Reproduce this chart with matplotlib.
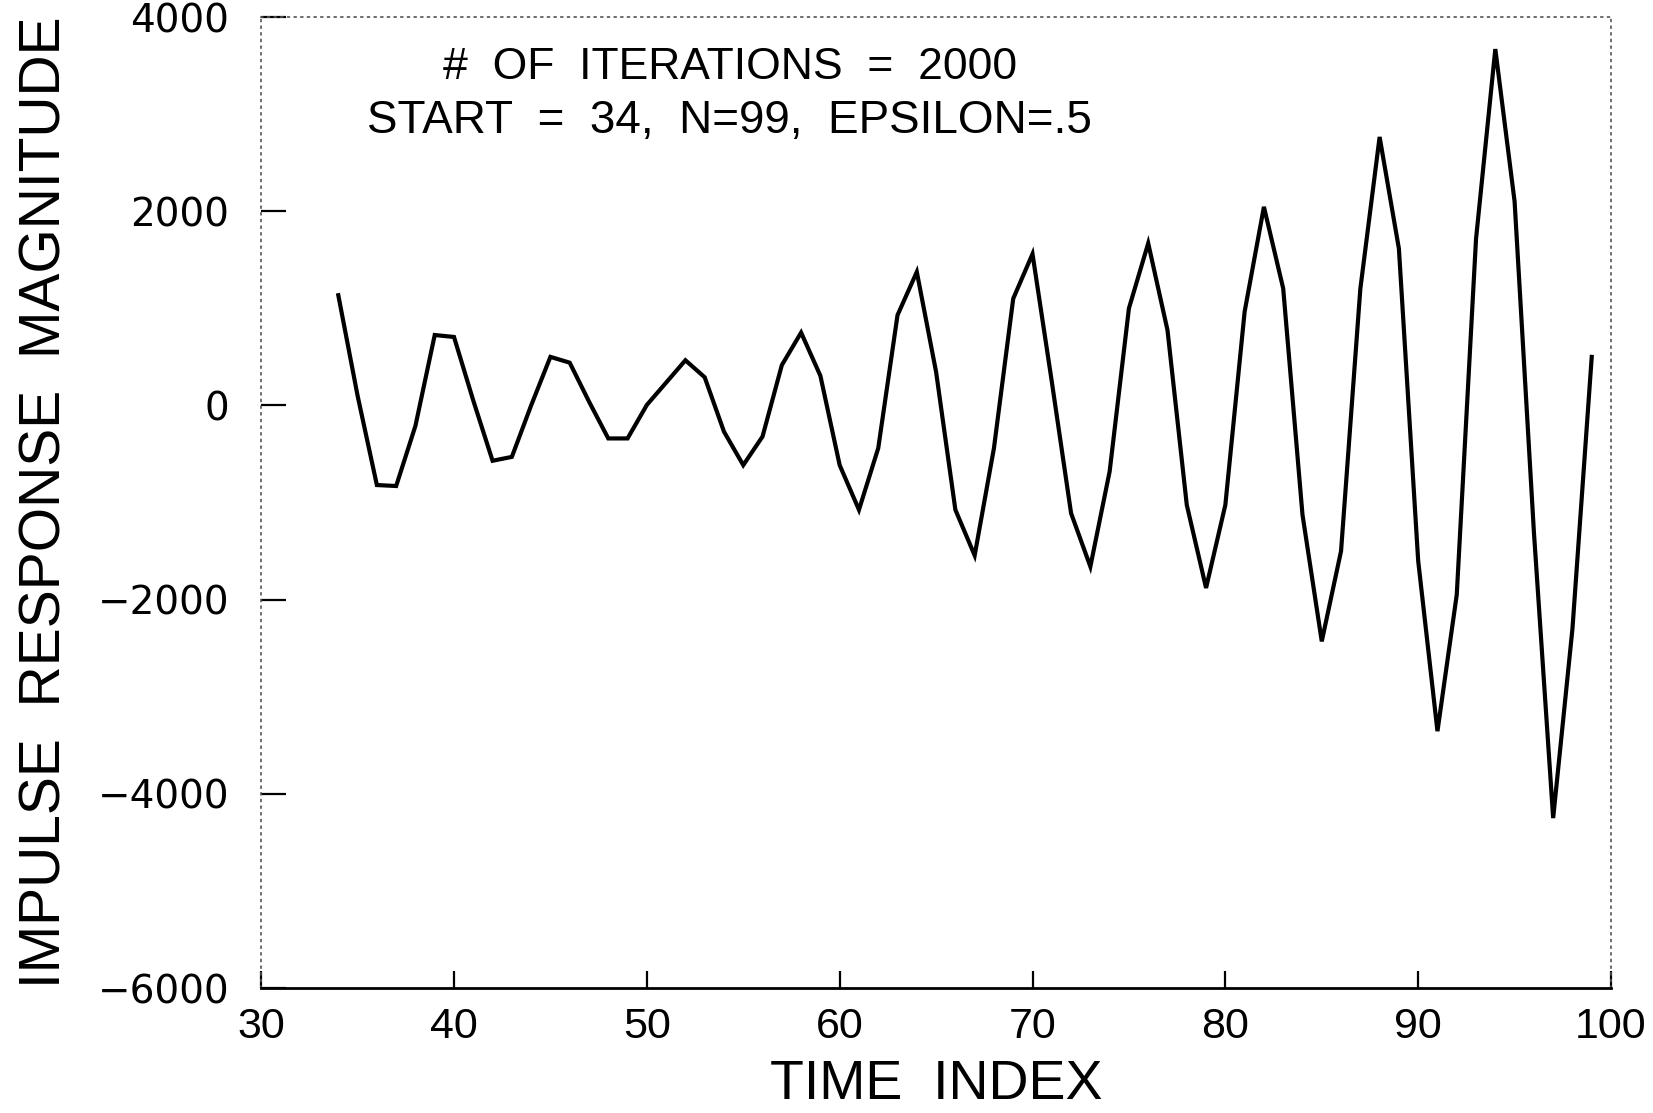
import numpy as np
import matplotlib
matplotlib.use("Agg")
import matplotlib.pyplot as plt

# impulse response, time index 34..99
time_index = list(range(34, 100))
magnitude = [
    1135, 100, -820, -830, -210, 725, 705, 50, -570, -530,
    0, 500, 440, 40, -340, -340, 5, 235, 465, 290,
    -270, -615, -320, 415, 750, 305, -615, -1075, -440, 930,
    1375, 345, -1075, -1545, -440, 1100, 1560, 245, -1110, -1660,
    -680, 1000, 1670, 775, -1025, -1880, -1025, 965, 2045, 1205,
    -1125, -2430, -1500, 1200, 2765, 1615, -1600, -3355, -1950, 1715,
    3670, 2100, -1300, -4250, -2300, 500,
]

x_ticks = [30, 40, 50, 60, 70, 80, 90, 100]
y_ticks = [-6000, -4000, -2000, 0, 2000, 4000]

line1 = "#  OF  ITERATIONS  =  2000"
line2 = "START  =  34,  N=99,  EPSILON=.5"

fig = plt.figure(figsize=(16.53, 11.13), dpi=100)
ax = fig.add_axes([0.158, 0.1123, 0.8166, 0.8724])

ax.plot(time_index, magnitude, color="black", lw=3, solid_joinstyle="miter")

ax.set_xlim(30, 100)
ax.set_ylim(-6000, 4000)
ax.set_xticks(x_ticks)
ax.set_yticks(y_ticks)
ax.set_yticklabels([str(v).replace("-", "\u2212") for v in y_ticks],
                   fontfamily="DejaVu Sans", fontsize=28)
ax.set_xticklabels([str(v) for v in x_ticks],
                   fontfamily="Liberation Sans", fontsize=31)

ax.tick_params(axis="y", direction="in", length=18, width=1.6, pad=23)
ax.tick_params(axis="x", direction="in", length=12, width=1.6, pad=14)

for side in ["top", "right", "left"]:
    ax.spines[side].set_linestyle((0, (1, 3)))
    ax.spines[side].set_color("#555555")
    ax.spines[side].set_linewidth(1.2)
ax.spines["bottom"].set_linewidth(2)

ax.set_xlabel("TIME  INDEX", fontfamily="Liberation Sans", fontsize=40, labelpad=8)
ax.set_ylabel("IMPULSE  RESPONSE  MAGNITUDE", fontfamily="Liberation Sans",
              fontsize=41, labelpad=18)

ax.text(0.347, 0.948, line1, transform=ax.transAxes, ha="center", va="center",
        fontfamily="Liberation Sans", fontsize=32)
ax.text(0.347, 0.893, line2, transform=ax.transAxes, ha="center", va="center",
        fontfamily="Liberation Sans", fontsize=33)

fig.savefig("out.png", dpi=100)
